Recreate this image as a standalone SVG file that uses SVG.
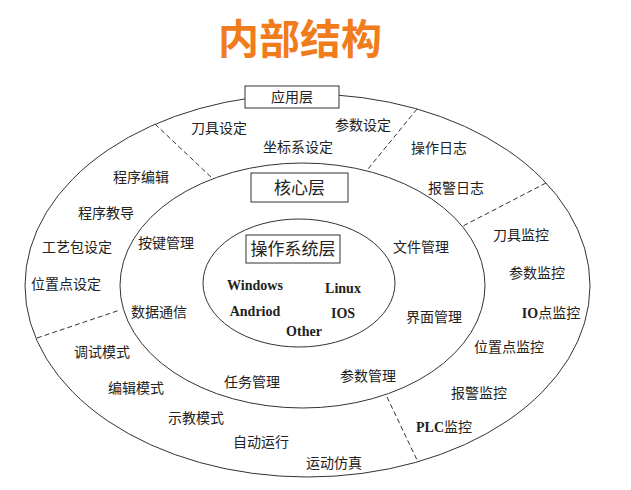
<svg xmlns="http://www.w3.org/2000/svg" width="631" height="490" viewBox="0 0 631 490">
<style>
.ring{fill:none;stroke:#333;stroke-width:1}
.box{fill:#fff;stroke:#333;stroke-width:1}
.dash{fill:none;stroke:#333;stroke-width:1;stroke-dasharray:5 3}
.t{font-family:"Noto Sans CJK SC","Noto Sans",sans-serif;font-size:14px;fill:#222;text-anchor:middle}
.big{font-size:17px}
.en{font-family:"Liberation Serif","Times New Roman",serif;font-weight:bold;font-size:14px;fill:#222}
.title{font-family:"Noto Sans CJK SC",sans-serif;font-size:41px;font-weight:bold;fill:#F07C1C;text-anchor:middle}
</style>
<rect width="631" height="490" fill="#fff"/>
<text class="title" x="300" y="54">内部结构</text>

<g id="outer-ring"><ellipse class="ring" cx="307.5" cy="285.5" rx="282.5" ry="191.5"/></g>
<g id="middle-ring"><ellipse class="ring" cx="302.5" cy="285.5" rx="182.5" ry="122.5"/></g>
<g id="inner-ring"><ellipse class="ring" cx="299" cy="283" rx="96" ry="64"/></g>

<g id="connectors">
<line class="dash" x1="155" y1="124" x2="212" y2="178"/>
<line class="dash" x1="417" y1="109" x2="368" y2="169"/>
<line class="dash" x1="546" y1="183" x2="463" y2="226"/>
<line class="dash" x1="37" y1="338" x2="120" y2="310"/>
<line class="dash" x1="387" y1="397" x2="418" y2="462"/>
</g>

<g id="app-layer">
<rect class="box" x="245" y="86" width="94" height="22"/>
<text class="t" x="292" y="102">应用层</text>
</g>
<g id="core-layer">
<rect class="box" x="251" y="173" width="97" height="29"/>
<text class="t big" x="299.5" y="194">核心层</text>
</g>
<g id="os-layer">
<rect class="box" x="246" y="235" width="94" height="28"/>
<text class="t big" x="293" y="255">操作系统层</text>
</g>

<g id="app-items">
<text class="t" x="219" y="133">刀具设定</text>
<text class="t" x="298" y="152">坐标系设定</text>
<text class="t" x="363" y="130">参数设定</text>
<text class="t" x="439" y="153">操作日志</text>
<text class="t" x="456" y="193">报警日志</text>
<text class="t" x="141" y="182">程序编辑</text>
<text class="t" x="106" y="218">程序教导</text>
<text class="t" x="77" y="252">工艺包设定</text>
<text class="t" x="66" y="289">位置点设定</text>
<text class="t" x="521" y="240">刀具监控</text>
<text class="t" x="537" y="278">参数监控</text>
<text class="t" x="551" y="318"><tspan class="en">IO</tspan>点监控</text>
<text class="t" x="509" y="352">位置点监控</text>
<text class="t" x="479" y="398">报警监控</text>
<text class="t" x="444" y="432"><tspan class="en">PLC</tspan>监控</text>
<text class="t" x="102" y="357">调试模式</text>
<text class="t" x="136" y="393">编辑模式</text>
<text class="t" x="196" y="423">示教模式</text>
<text class="t" x="261" y="447">自动运行</text>
<text class="t" x="334" y="468">运动仿真</text>
</g>

<g id="core-items">
<text class="t" x="166" y="248">按键管理</text>
<text class="t" x="159" y="317">数据通信</text>
<text class="t" x="252" y="387">任务管理</text>
<text class="t" x="368" y="381">参数管理</text>
<text class="t" x="434" y="322">界面管理</text>
<text class="t" x="421" y="252">文件管理</text>
</g>

<g id="os-items">
<text class="en" x="255" y="290" text-anchor="middle">Windows</text>
<text class="en" x="343" y="293" text-anchor="middle">Linux</text>
<text class="en" x="255" y="316" text-anchor="middle">Andriod</text>
<text class="en" x="343" y="318" text-anchor="middle">IOS</text>
<text class="en" x="304" y="336" text-anchor="middle">Other</text>
</g>
</svg>
